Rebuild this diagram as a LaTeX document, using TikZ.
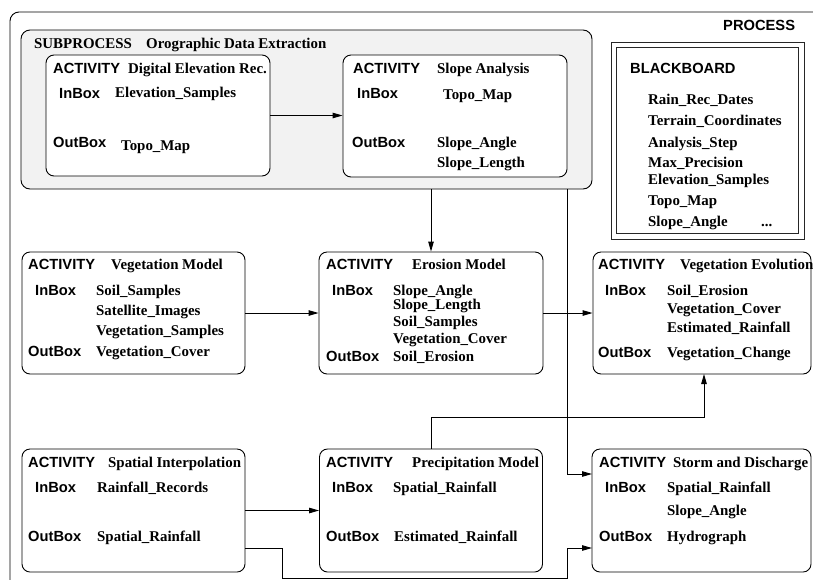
\documentclass[tikz,border=0pt]{standalone}
\usepackage{fontspec}
\setmainfont{Liberation Serif}
\newfontfamily\hvfont{Liberation Sans}
\usetikzlibrary{arrows.meta,calc}

\begin{document}
\begin{tikzpicture}[x=1pt,y=-1pt,
  lw/.style={line width=0.9pt},
  actbox/.style={draw, line width=0.9pt, rounded corners=8pt, fill=white, inner sep=0pt},
  subbox/.style={draw, line width=0.9pt, rounded corners=9pt, fill={rgb,255:red,242;green,242;blue,242}, inner sep=0pt},
  board/.style={draw=black!85, line width=0.9pt, inner sep=0pt},
  kw/.style={anchor=base west, inner sep=0pt, font=\hvfont\bfseries\fontsize{14.7}{17}\selectfont},
  val/.style={anchor=base west, inner sep=0pt, font=\bfseries\fontsize{14.9}{17}\selectfont},
  arr/.style={line width=0.9pt, -{Triangle[length=10pt,width=5.5pt]}},
  wire/.style={line width=0.9pt}]

\useasboundingbox (0,0) rectangle (813,579);

% process frame (runs past the page edge on the right and bottom)
\begin{scope}
  \clip (0,0) rectangle (813,579);
  \draw[lw, rounded corners=9pt] (10,12) rectangle (850,620);
\end{scope}
\node[kw] (procT) at (723,30) {PROCESS};

% subprocess container
\node[subbox, minimum width=571pt, minimum height=159pt] (sub) at (306.5,109.5) {};
\node[val] (subK) at (34,48) {SUBPROCESS};
\node[val] (subT) at (146,48) {Orographic Data Extraction};

% activity boxes
\node[actbox, minimum width=224pt, minimum height=121pt] (der) at (158,115.5) {};
\node[actbox, minimum width=224pt, minimum height=122pt] (sa)  at (455,116) {};
\node[actbox, minimum width=223pt, minimum height=122pt] (vm)  at (133.5,313) {};
\node[actbox, minimum width=224pt, minimum height=122pt] (em)  at (431,313) {};
\node[actbox, minimum width=218pt, minimum height=122pt] (ve)  at (702,313) {};
\node[actbox, minimum width=223pt, minimum height=123pt] (si)  at (133.5,510.5) {};
\node[actbox, minimum width=223pt, minimum height=123pt] (pm)  at (431,510.5) {};
\node[actbox, minimum width=219pt, minimum height=123pt] (sd)  at (701.5,510.5) {};

% blackboard: double frame
\node[board, minimum width=193pt, minimum height=197pt] (bb) at (707.5,140.5) {};
\draw[draw=black!85, line width=0.9pt] ($(bb.north west)+(6,6)$) rectangle ($(bb.south east)+(-6,-6)$);

% connector end points
\coordinate (sdA) at (592,474);
\coordinate (sdB) at (592,548);
\coordinate (siOut) at (245,548);
\coordinate (veIn) at (704,374);

% connectors
\draw[arr] (der.east) -- (der.east -| sa.west);
\draw[arr] (sub.south -| em.north) -- (em.north);
\draw[arr] (vm.east) -- (em.west);
\draw[arr] (em.east) -- (ve.west);
\draw[arr] (si.east) -- (si.east -| pm.west);
\draw[arr] (sub.south -| sa.east) |- (sdA);
\draw[arr] (siOut) -| (282,578) -| (567,548) -- (sdB);
\draw[arr] (pm.north) -- ++(0,-31) -| (veIn);

% Digital Elevation Rec.
\node[kw]  (derK) at (53,73) {ACTIVITY};
\node[val] (derT) at (128,73) {Digital Elevation Rec.};
\node[kw]  (derI) at (59,98) {InBox};
\node[val] (derI1) at (115,97) {Elevation\_Samples};
\node[kw]  (derO) at (53,147) {OutBox};
\node[val] (derO1) at (121,150) {Topo\_Map};

% Slope Analysis
\node[kw]  (saK) at (353,73) {ACTIVITY};
\node[val] (saT) at (437,73) {Slope Analysis};
\node[kw]  (saI) at (357,98) {InBox};
\node[val] (saI1) at (443,99) {Topo\_Map};
\node[kw]  (saO) at (352,147) {OutBox};
\node[val] (saO1) at (437,147) {Slope\_Angle};
\node[val] (saO2) at (437,167) {Slope\_Length};

% blackboard contents
\node[kw]  (bbK) at (630,73) {BLACKBOARD};
\node[val] (bb1) at (648,104) {Rain\_Rec\_Dates};
\node[val] (bb2) at (648,125) {Terrain\_Coordinates};
\node[val] (bb3) at (648,147) {Analysis\_Step};
\node[val] (bb4) at (648,167) {Max\_Precision};
\node[val] (bb5) at (648,184) {Elevation\_Samples};
\node[val] (bb6) at (648,205) {Topo\_Map};
\node[val] (bb7) at (648,226) {Slope\_Angle};
\node[val] (bb8) at (761,226) {...};

% Vegetation Model
\node[kw]  (vmK) at (28,269) {ACTIVITY};
\node[val] (vmT) at (111,269) {Vegetation Model};
\node[kw]  (vmI) at (35,295) {InBox};
\node[val] (vmI1) at (96,295) {Soil\_Samples};
\node[val] (vmI2) at (96,315) {Satellite\_Images};
\node[val] (vmI3) at (96,335) {Vegetation\_Samples};
\node[kw]  (vmO) at (28,356) {OutBox};
\node[val] (vmO1) at (96,356) {Vegetation\_Cover};

% Erosion Model
\node[kw]  (emK) at (326,269) {ACTIVITY};
\node[val] (emT) at (412,269) {Erosion Model};
\node[kw]  (emI) at (332,295) {InBox};
\node[val] (emI1) at (393,295) {Slope\_Angle};
\node[val] (emI2) at (393,309) {Slope\_Length};
\node[val] (emI3) at (393,326) {Soil\_Samples};
\node[val] (emI4) at (393,343) {Vegetation\_Cover};
\node[kw]  (emO) at (326,361) {OutBox};
\node[val] (emO1) at (393,361) {Soil\_Erosion};

% Vegetation Evolution
\node[kw]  (veK) at (598,269) {ACTIVITY};
\node[val] (veT) at (680,269) {Vegetation Evolution};
\node[kw]  (veI) at (605,295) {InBox};
\node[val] (veI1) at (667,295) {Soil\_Erosion};
\node[val] (veI2) at (667,313) {Vegetation\_Cover};
\node[val] (veI3) at (667,332) {Estimated\_Rainfall};
\node[kw]  (veO) at (598,357) {OutBox};
\node[val] (veO1) at (667,357) {Vegetation\_Change};

% Spatial Interpolation
\node[kw]  (siK) at (28,467) {ACTIVITY};
\node[val] (siT) at (108,467) {Spatial Interpolation};
\node[kw]  (siI) at (35,492) {InBox};
\node[val] (siI1) at (97,492) {Rainfall\_Records};
\node[kw]  (siO) at (28,541) {OutBox};
\node[val] (siO1) at (97,541) {Spatial\_Rainfall};

% Precipitation Model
\node[kw]  (pmK) at (326,467) {ACTIVITY};
\node[val] (pmT) at (412,467) {Precipitation Model};
\node[kw]  (pmI) at (332,492) {InBox};
\node[val] (pmI1) at (393,492) {Spatial\_Rainfall};
\node[kw]  (pmO) at (326,541) {OutBox};
\node[val] (pmO1) at (394,541) {Estimated\_Rainfall};

% Storm and Discharge
\node[kw]  (sdK) at (599,467) {ACTIVITY};
\node[val] (sdT) at (673,467) {Storm and Discharge};
\node[kw]  (sdI) at (605,492) {InBox};
\node[val] (sdI1) at (667,492) {Spatial\_Rainfall};
\node[val] (sdI2) at (667,515) {Slope\_Angle};
\node[kw]  (sdO) at (599,541) {OutBox};
\node[val] (sdO1) at (667,541) {Hydrograph};

\end{tikzpicture}
\end{document}
